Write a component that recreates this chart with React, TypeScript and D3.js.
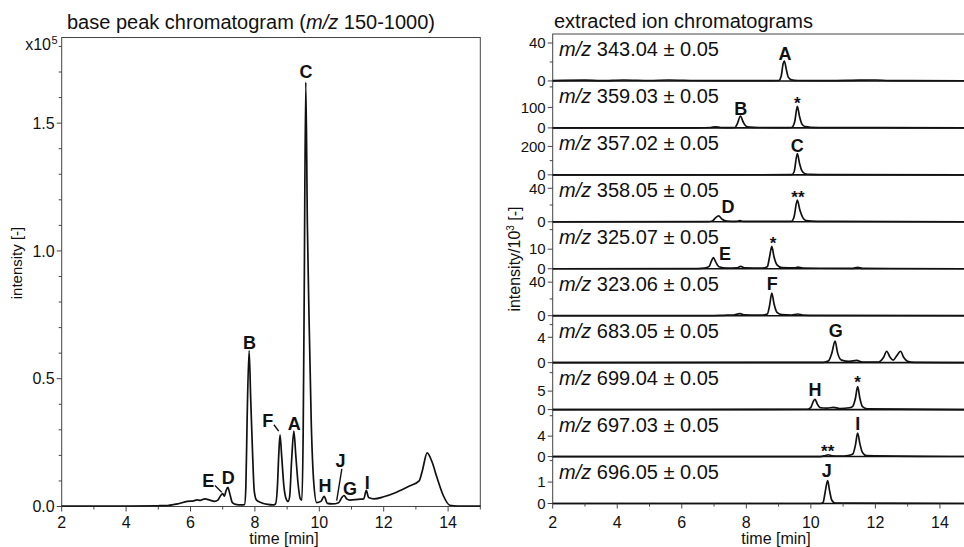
import React from "react";
import * as d3 from "d3";

const FONT = "'Liberation Sans', Arial, Helvetica, sans-serif";

// base peak chromatogram: [time min, intensity x10^5]
const bpc: [number, number][] = [
  [2.0, 0.002], [3.0, 0.002], [4.0, 0.002], [5.0, 0.003], [5.3, 0.004], [5.6, 0.01],
  [5.9, 0.02], [6.1, 0.022], [6.2, 0.026], [6.3, 0.024], [6.45, 0.03], [6.6, 0.025],
  [6.75, 0.02], [6.85, 0.025], [6.95, 0.045], [7.0, 0.05], [7.05, 0.04], [7.1, 0.06],
  [7.16, 0.075], [7.22, 0.05], [7.3, 0.015], [7.4, 0.008], [7.6, 0.006], [7.68, 0.008],
  [7.72, 0.08], [7.76, 0.35], [7.82, 0.61], [7.87, 0.42], [7.93, 0.2], [7.98, 0.06],
  [8.05, 0.025], [8.2, 0.015], [8.4, 0.008], [8.55, 0.006], [8.64, 0.01], [8.7, 0.08],
  [8.74, 0.2], [8.78, 0.28], [8.83, 0.2], [8.9, 0.08], [8.97, 0.03], [9.03, 0.02],
  [9.08, 0.04], [9.14, 0.18], [9.21, 0.295], [9.27, 0.2], [9.34, 0.09], [9.41, 0.03],
  [9.46, 0.025], [9.5, 0.3], [9.53, 0.8], [9.58, 1.66], [9.63, 1.1], [9.68, 0.75],
  [9.75, 0.33], [9.83, 0.09], [9.92, 0.015], [10.05, 0.02], [10.15, 0.04], [10.25, 0.012],
  [10.4, 0.01], [10.6, 0.015], [10.7, 0.035], [10.77, 0.043], [10.85, 0.03], [10.95, 0.025],
  [11.2, 0.028], [11.38, 0.03], [11.46, 0.063], [11.53, 0.035], [11.7, 0.03], [12.0, 0.038],
  [12.4, 0.056], [12.8, 0.08], [13.1, 0.1], [13.2, 0.14], [13.35, 0.21], [13.5, 0.175],
  [13.65, 0.115], [13.85, 0.043], [14.05, 0.005], [14.3, 0.002], [15.0, 0.002],
];

// peak letters on the base peak chromatogram: [text, time, intensity] of the label centre
const bpcLabels: [string, number, number][] = [
  ["C", 9.59, 1.7], ["B", 7.83, 0.643], ["F", 8.4, 0.337], ["A", 9.22, 0.326],
  ["E", 6.55, 0.102], ["D", 7.17, 0.115], ["H", 10.18, 0.082], ["J", 10.66, 0.18],
  ["G", 10.95, 0.069], ["I", 11.49, 0.095],
];
// leader lines: [t1, v1, t2, v2]
const bpcLeaders: [number, number, number, number][] = [
  [8.59, 0.32, 8.74, 0.295],
  [6.76, 0.082, 6.97, 0.056],
  [10.7, 0.147, 10.54, 0.023],
];

// extracted ion chromatograms (intensity / 10^3)
const eicMz = ["343.04", "359.03", "357.02", "358.05", "325.07", "323.06", "683.05", "699.04", "697.03", "696.05"];
const eicMax = [49.5, 229, 330, 56, 24, 56, 7.4, 12.7, 9.2, 2.19];
const eicMajor = [[0, 40], [0, 100], [0, 200], [0, 40], [0, 10], [0, 40], [0, 4], [0, 5], [0, 4], [0, 1]];
const eicMinor = [[20], [200], [100], [20], [20], [20], [6], [10], [8], [2]];

const eicTraces: [number, number][][] = [
  [[2, 0.3], [3, 0.8], [3.5, 0.3], [4.2, 1], [5, 0.5], [5.6, 1], [6.4, 0.5], [7.5, 0.3], [8.5, 0.3],
   [9.0, 0.5], [9.08, 5], [9.14, 18], [9.18, 21], [9.24, 12], [9.3, 4], [9.4, 1.2], [9.6, 0.5],
   [10.5, 0.3], [11.5, 0.8], [12, 1], [12.4, 0.5], [13, 0.3], [15, 0.2]],
  [[2, 0], [6.5, 0.5], [6.9, 2], [7.05, 5], [7.2, 2], [7.5, 1], [7.65, 2], [7.72, 20], [7.82, 58],
   [7.9, 30], [7.98, 10], [8.1, 4], [8.4, 2], [9.0, 1.5], [9.4, 2], [9.5, 30], [9.58, 105],
   [9.65, 55], [9.72, 20], [9.82, 6], [10, 3], [10.5, 1], [11.5, 1.5], [12, 1], [15, 0]],
  [[2, 0], [9.4, 1], [9.48, 20], [9.58, 150], [9.65, 80], [9.72, 30], [9.82, 8], [10, 3],
   [10.5, 1], [15, 0]],
  [[2, 0], [6.8, 0.2], [6.95, 1], [7.05, 5], [7.14, 7], [7.25, 3], [7.4, 0.8], [7.7, 0.5],
   [7.8, 1.5], [7.9, 0.5], [9.4, 0.5], [9.48, 6], [9.58, 26], [9.66, 14], [9.75, 5],
   [9.85, 1.5], [10.2, 0.5], [15, 0]],
  [[2, 0], [6.5, 0.1], [6.7, 0.3], [6.85, 1.2], [6.92, 4], [6.98, 5.7], [7.05, 3.5], [7.15, 1],
   [7.4, 0.3], [7.7, 0.4], [7.83, 1.2], [7.95, 0.4], [8.5, 0.3], [8.65, 1], [8.72, 6],
   [8.79, 11.4], [8.86, 6], [8.95, 2], [9.1, 0.6], [9.5, 0.4], [9.6, 0.8], [9.75, 0.3],
   [11.3, 0.2], [11.45, 0.7], [11.6, 0.2], [15, 0]],
  [[2, 0], [7.0, 0.2], [7.3, 0.5], [7.6, 0.8], [7.8, 2.5], [7.95, 1], [8.2, 0.8], [8.5, 0.6],
   [8.65, 2], [8.72, 12], [8.79, 27], [8.86, 14], [8.95, 4], [9.1, 1.2], [9.4, 0.8], [9.6, 2],
   [9.75, 0.8], [10.2, 0.3], [15, 0]],
  [[2, 0], [10.4, 0.05], [10.55, 0.3], [10.65, 1.5], [10.75, 3.4], [10.83, 1.5], [10.95, 0.4],
   [11.2, 0.2], [11.42, 0.35], [11.6, 0.1], [12.1, 0.1], [12.25, 0.8], [12.35, 1.8],
   [12.45, 0.9], [12.55, 0.4], [12.65, 1.0], [12.78, 1.8], [12.88, 0.8], [13.0, 0.2],
   [13.2, 0.05], [15, 0]],
  [[2, 0], [9.9, 0.1], [10.0, 0.6], [10.08, 2.3], [10.13, 2.8], [10.2, 1.5], [10.3, 0.5],
   [10.5, 0.4], [10.7, 0.6], [10.9, 0.3], [11.2, 0.5], [11.3, 0.9], [11.38, 3], [11.45, 6.2],
   [11.52, 3], [11.6, 0.8], [11.75, 0.2], [15, 0]],
  [[2, 0], [10.3, 0], [10.45, 0.2], [10.54, 0.35], [10.65, 0.15], [10.9, 0.1], [11.15, 0.2],
   [11.3, 0.5], [11.38, 2.2], [11.45, 4.6], [11.52, 2.5], [11.6, 0.8], [11.72, 0.2], [15, 0]],
  [[2, 0], [10.3, 0], [10.38, 0.05], [10.44, 0.5], [10.52, 1.07], [10.58, 0.6], [10.65, 0.15],
   [10.75, 0.02], [15, 0]],
];

// peak labels per trace: [row, text, time, value at label centre]
const eicLabels: [number, string, number, number][] = [
  [0, "A", 9.2, 28.4], [1, "B", 7.83, 95], [1, "*", 9.58, 139], [2, "C", 9.58, 207],
  [3, "D", 7.43, 18.5], [3, "**", 9.6, 34], [4, "E", 7.34, 7.6], [4, "*", 8.83, 14.8],
  [5, "F", 8.8, 38], [6, "G", 10.77, 5.1], [7, "H", 10.13, 5.35], [7, "*", 11.45, 8.5],
  [8, "I", 11.45, 6.5], [8, "**", 10.52, 1.9], [9, "J", 10.49, 1.53],
];

const timeMajor = [2, 4, 6, 8, 10, 12, 14];
const timeMinor = [3, 5, 7, 9, 11, 13, 15];
const bpcMajor = [0, 0.5, 1.0, 1.5];
const bpcMinor = [0.1, 0.2, 0.3, 0.4, 0.6, 0.7, 0.8, 0.9, 1.1, 1.2, 1.3, 1.4, 1.6, 1.7, 1.8];

const W = 964;
const H = 547;

export default function App() {
  const xL = d3.scaleLinear().domain([2, 15]).range([61.7, 480.3]);
  const yL = d3.scaleLinear().domain([0, 1.835]).range([506.5, 37.5]);
  const xR = d3.scaleLinear().domain([2, 15]).range([552.7, 972.2]);
  const rowTop = 34;
  const rowH = 46.95;
  const rowScales = eicMax.map((m, i) =>
    d3.scaleLinear().domain([0, m]).range([rowTop + (i + 1) * rowH, rowTop + i * rowH])
  );

  const lineL = d3.line<[number, number]>()
    .x(d => xL(d[0]))
    .y(d => yL(d[1]))
    .curve(d3.curveMonotoneX);

  const stroke = "#111";
  const frame = "#444";

  return (
    <svg width={W} height={H} style={{ position: "absolute", left: 0, top: 0, background: "#fff" }}
      fontFamily={FONT}>
      {/* ---------- left panel ---------- */}
      <text x={67} y={28.5} fontSize={20} fill="#111">
        base peak chromatogram (<tspan fontStyle="italic">m/z</tspan> 150-1000)
      </text>
      <rect x={xL(2)} y={yL(1.835)} width={xL(15) - xL(2)} height={yL(0) - yL(1.835)}
        fill="none" stroke={frame} strokeWidth={1} />
      {bpcMajor.map(v => (
        <g key={"lm" + v}>
          <line x1={xL(2) - 5} x2={xL(2)} y1={yL(v)} y2={yL(v)} stroke={frame} />
          <text x={xL(2) - 7} y={yL(v)} dy="0.35em" textAnchor="end" fontSize={16} fill="#111">
            {d3.format(".1f")(v)}
          </text>
        </g>
      ))}
      {bpcMinor.map(v => (
        <line key={"ln" + v} x1={xL(2) - 3} x2={xL(2)} y1={yL(v)} y2={yL(v)} stroke={frame} />
      ))}
      <text x={51} y={50} textAnchor="end" fontSize={16} fill="#111">x10</text>
      <text x={51.5} y={44} fontSize={11} fill="#111">5</text>
      <text transform={`translate(17,${263}) rotate(-90)`} textAnchor="middle" dy="0.35em"
        fontSize={15} fill="#111">intensity [-]</text>
      {timeMajor.map(t => (
        <g key={"lx" + t}>
          <line x1={xL(t)} x2={xL(t)} y1={yL(0)} y2={yL(0) + 5} stroke={frame} />
          <text x={xL(t)} y={528} textAnchor="middle" fontSize={16} fill="#111">{t}</text>
        </g>
      ))}
      {timeMinor.map(t => (
        <line key={"lxm" + t} x1={xL(t)} x2={xL(t)} y1={yL(0)} y2={yL(0) + 3} stroke={frame} />
      ))}
      <text x={284} y={543.5} textAnchor="middle" fontSize={16} fill="#111">time [min]</text>
      <path d={lineL(bpc) || ""} fill="none" stroke={stroke} strokeWidth={1.7} strokeLinejoin="round" />
      {bpcLeaders.map((l, i) => (
        <line key={"ld" + i} x1={xL(l[0])} y1={yL(l[1])} x2={xL(l[2])} y2={yL(l[3])}
          stroke={stroke} strokeWidth={1.4} />
      ))}
      {bpcLabels.map(([s, t, v]) => (
        <text key={"bl" + s} x={xL(t)} y={yL(v)} dy="0.36em" textAnchor="middle" fontSize={18}
          fontWeight="bold" fill="#111">{s}</text>
      ))}

      {/* ---------- right panel ---------- */}
      <text x={554} y={27.5} fontSize={20} fill="#111">extracted ion chromatograms</text>
      <rect x={xR(2)} y={rowTop} width={xR(15) - xR(2)} height={rowH * 10}
        fill="none" stroke={frame} strokeWidth={1} />
      {eicTraces.map((tr, i) => {
        const y = rowScales[i];
        const line = d3.line<[number, number]>()
          .x(d => xR(d[0]))
          .y(d => y(d[1]))
          .curve(d3.curveMonotoneX);
        return (
          <g key={"row" + i}>
            <line x1={xR(2)} x2={W} y1={y(0)} y2={y(0)} stroke={stroke} strokeWidth={1.6} />
            {eicMajor[i].map(v => (
              <g key={"rm" + v}>
                <line x1={xR(2) - 5} x2={xR(2)} y1={y(v)} y2={y(v)} stroke={frame} />
                <text x={xR(2) - 7} y={y(v)} dy="0.35em" textAnchor="end" fontSize={15} fill="#111">{v}</text>
              </g>
            ))}
            {eicMinor[i].map(v => (
              <line key={"rn" + v} x1={xR(2) - 3} x2={xR(2)} y1={y(v)} y2={y(v)} stroke={frame} />
            ))}
            <text x={559} y={rowTop + i * rowH + 22} fontSize={20} fill="#111">
              <tspan fontStyle="italic">m/z</tspan> {eicMz[i]} ± 0.05
            </text>
            <path d={line(tr) || ""} fill="none" stroke={stroke} strokeWidth={1.7} strokeLinejoin="round" />
          </g>
        );
      })}
      {eicLabels.map(([r, s, t, v], k) => (
        <text key={"el" + k} x={xR(t)} y={rowScales[r](v)} dy={s.startsWith("*") ? "0.57em" : "0.36em"}
          textAnchor="middle" fontSize={s.startsWith("*") ? 17 : 18} fontWeight="bold" fill="#111">{s}</text>
      ))}
      <text transform={`translate(514,${259}) rotate(-90)`} textAnchor="middle" dy="0.35em"
        fontSize={16} fill="#111">intensity/10<tspan fontSize={10} dy="-6">3</tspan><tspan dy="6"> [-]</tspan></text>
      {timeMajor.map(t => (
        <g key={"rx" + t}>
          <line x1={xR(t)} x2={xR(t)} y1={rowScales[9](0)} y2={rowScales[9](0) + 5} stroke={frame} />
          <text x={xR(t)} y={527.5} textAnchor="middle" fontSize={16} fill="#111">{t}</text>
        </g>
      ))}
      {timeMinor.map(t => (
        <line key={"rxm" + t} x1={xR(t)} x2={xR(t)} y1={rowScales[9](0)} y2={rowScales[9](0) + 3} stroke={frame} />
      ))}
      <text x={776} y={543.5} textAnchor="middle" fontSize={16} fill="#111">time [min]</text>
    </svg>
  );
}
